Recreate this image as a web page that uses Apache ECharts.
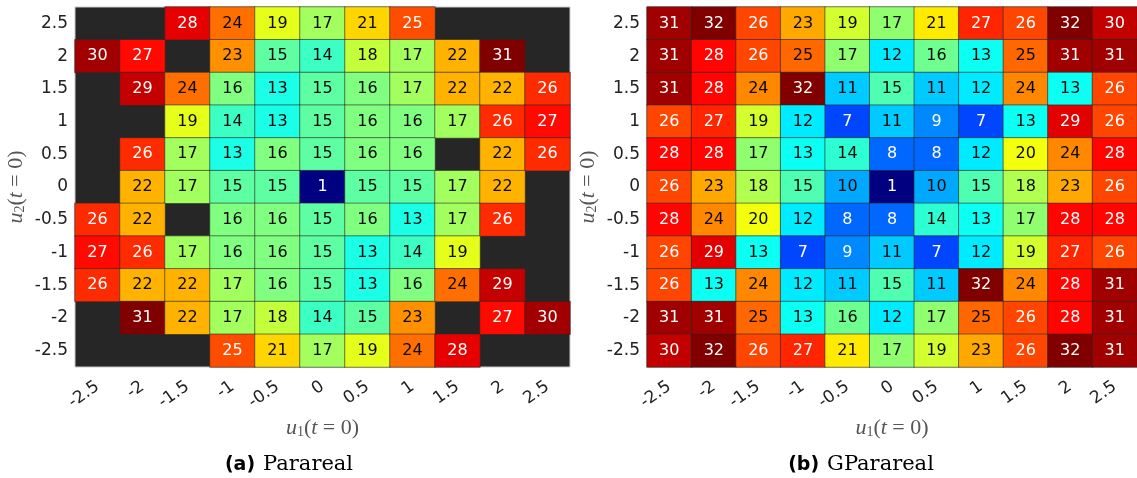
<!DOCTYPE html>
<html>
<head>
<meta charset="utf-8">
<script src="https://cdn.jsdelivr.net/npm/echarts@6/dist/echarts.min.js"></script>
<style>
html,body{margin:0;padding:0;background:#fff;}
#chart{width:1137px;height:478px;}
</style>
</head>
<body>
<div id="chart"></div>
<script>
// Tick labels (u1 along x, u2 along y, y listed bottom -> top)
var xLabels = ['-2.5','-2','-1.5','-1','-0.5','0','0.5','1','1.5','2','2.5'];
var yLabels = ['-2.5','-2','-1.5','-1','-0.5','0','0.5','1','1.5','2','2.5'];

// Panel (a) Parareal: rows listed from u2 = 2.5 (top) down to u2 = -2.5; null = no value (dark cell)
var pararealRows = [
  [null, null, 28, 24, 19, 17, 21, 25, null, null, null],
  [30, 27, null, 23, 15, 14, 18, 17, 22, 31, null],
  [null, 29, 24, 16, 13, 15, 16, 17, 22, 22, 26],
  [null, null, 19, 14, 13, 15, 16, 16, 17, 26, 27],
  [null, 26, 17, 13, 16, 15, 16, 16, null, 22, 26],
  [null, 22, 17, 15, 15, 1, 15, 15, 17, 22, null],
  [26, 22, null, 16, 16, 15, 16, 13, 17, 26, null],
  [27, 26, 17, 16, 16, 15, 13, 14, 19, null, null],
  [26, 22, 22, 17, 16, 15, 13, 16, 24, 29, null],
  [null, 31, 22, 17, 18, 14, 15, 23, null, 27, 30],
  [null, null, null, 25, 21, 17, 19, 24, 28, null, null]
];

// Panel (b) GParareal: rows from u2 = 2.5 (top) down to u2 = -2.5
var gpararealRows = [
  [31, 32, 26, 23, 19, 17, 21, 27, 26, 32, 30],
  [31, 28, 26, 25, 17, 12, 16, 13, 25, 31, 31],
  [31, 28, 24, 32, 11, 15, 11, 12, 24, 13, 26],
  [26, 27, 19, 12, 7, 11, 9, 7, 13, 29, 26],
  [28, 28, 17, 13, 14, 8, 8, 12, 20, 24, 28],
  [26, 23, 18, 15, 10, 1, 10, 15, 18, 23, 26],
  [28, 24, 20, 12, 8, 8, 14, 13, 17, 28, 28],
  [26, 29, 13, 7, 9, 11, 7, 12, 19, 27, 26],
  [26, 13, 24, 12, 11, 15, 11, 32, 24, 28, 31],
  [31, 31, 25, 13, 16, 12, 17, 25, 26, 28, 31],
  [30, 32, 26, 27, 21, 17, 19, 23, 26, 32, 31]
];

var pararealRange = [1, 31];
var gpararealRange = [1, 32];

var jet = ['#000080','#0000ff','#0080ff','#00ffff','#80ff80','#ffff00','#ff8000','#ff0000','#800000'];

function buildData(rows, range) {
  var out = [];
  var n = rows.length;
  for (var r = 0; r < n; r++) {
    for (var c = 0; c < rows[r].length; c++) {
      var v = rows[r][c];
      if (v === null) continue;
      var t = (v - range[0]) / (range[1] - range[0]);
      var dark = (t < 0.27 || t > 0.78);
      out.push({ value: [c, n - 1 - r, v], label: { color: dark ? '#ffffff' : '#0a0a0a' } });
    }
  }
  return out;
}

var tickFont = { fontFamily: 'DejaVu Sans', fontSize: 17, color: '#222' };
var nameRich = {
  i: { fontFamily: 'Liberation Serif', fontStyle: 'italic', fontSize: 22, color: '#555' },
  s: { fontFamily: 'Liberation Serif', fontSize: 14, color: '#555', verticalAlign: 'bottom', padding: [8, 0, 0, 0] },
  n: { fontFamily: 'Liberation Serif', fontSize: 22, color: '#555' }
};

function xAxis(idx) {
  return {
    type: 'category', gridIndex: idx, data: xLabels,
    axisLine: { show: false }, axisTick: { show: false }, splitLine: { show: false },
    axisLabel: Object.assign({ rotate: 35, margin: 18, interval: 0 }, tickFont),
    name: '{i|u}{s|1}{n|(}{i|t}{n| = 0)}',
    nameLocation: 'middle', nameGap: 42,
    nameTextStyle: { rich: nameRich }
  };
}
function yAxis(idx) {
  return {
    type: 'category', gridIndex: idx, data: yLabels,
    axisLine: { show: false }, axisTick: { show: false }, splitLine: { show: false },
    axisLabel: Object.assign({ margin: 7, interval: 0 }, tickFont),
    name: '{i|u}{s|2}{n|(}{i|t}{n| = 0)}',
    nameLocation: 'middle', nameGap: 48, nameRotate: 90,
    nameTextStyle: { rich: nameRich }
  };
}

function series(idx, rows, range) {
  return {
    type: 'heatmap', xAxisIndex: idx, yAxisIndex: idx,
    data: buildData(rows, range),
    itemStyle: { borderColor: 'rgba(40,40,40,0.6)', borderWidth: 1 },
    label: { show: true, fontFamily: 'DejaVu Sans', fontSize: 16 },
    emphasis: { disabled: true }
  };
}

var capRich = {
  b: { fontFamily: 'DejaVu Sans', fontWeight: 'bold', fontSize: 19, color: '#111', padding: [0, 8, 0, 0] },
  s: { fontFamily: 'DejaVu Serif', fontSize: 21, color: '#111' }
};

var chart = echarts.init(document.getElementById('chart'), null, { renderer: 'canvas' });
chart.setOption({
  animation: false,
  backgroundColor: '#ffffff',
  grid: [
    { left: 75, top: 7, width: 495, height: 360, show: true, backgroundColor: '#262626', borderColor: '#c8c8c8', borderWidth: 1 },
    { left: 647, top: 7, width: 495, height: 360, show: true, backgroundColor: '#262626', borderColor: '#c8c8c8', borderWidth: 1 }
  ],
  xAxis: [xAxis(0), xAxis(1)],
  yAxis: [yAxis(0), yAxis(1)],
  visualMap: [
    { show: false, seriesIndex: 0, dimension: 2, min: pararealRange[0], max: pararealRange[1], inRange: { color: jet } },
    { show: false, seriesIndex: 1, dimension: 2, min: gpararealRange[0], max: gpararealRange[1], inRange: { color: jet } }
  ],
  series: [series(0, pararealRows, pararealRange), series(1, gpararealRows, gpararealRange)],
  graphic: [
    { type: 'text', x: 289, y: 465, style: { text: '{b|(a)}{s|Parareal}', align: 'center', verticalAlign: 'middle', rich: capRich } },
    { type: 'text', x: 861, y: 465, style: { text: '{b|(b)}{s|GParareal}', align: 'center', verticalAlign: 'middle', rich: capRich } }
  ]
});
</script>
</body>
</html>
